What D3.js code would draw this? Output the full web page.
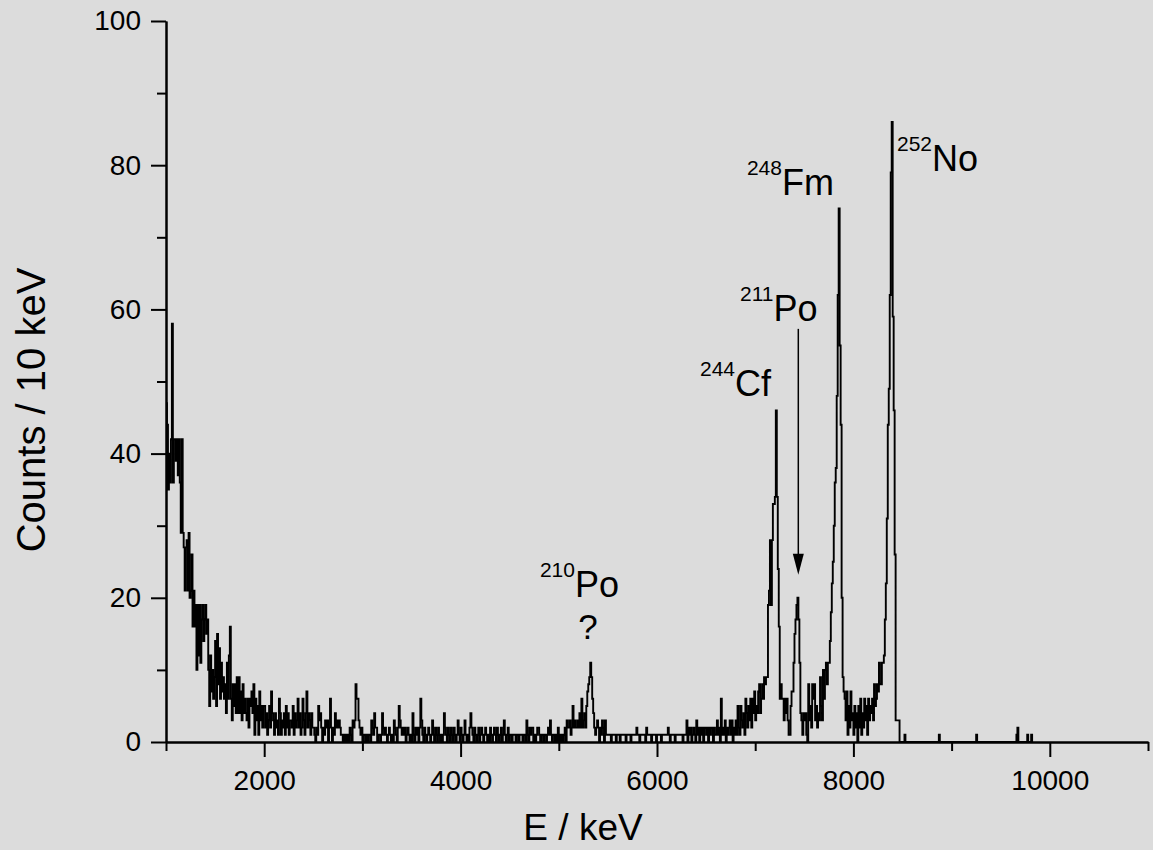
<!DOCTYPE html>
<html>
<head>
<meta charset="utf-8">
<script src="https://cdn.jsdelivr.net/npm/d3@7"></script>
<style>
  body { margin: 0; background: #dcdcdc; }
  svg { display: block; font-family: "Liberation Sans", Arial, Helvetica, sans-serif; }
</style>
</head>
<body>
<div id="chart"></div>
<script>
// Alpha spectrum, counts per 10 keV bin
const BIN_WIDTH = 10;

// 1000 - 1990 keV
const countsFrom1000 = [
  47, 44, 35, 40, 36, 42, 58, 36, 42, 42,
  39, 42, 37, 42, 36, 29, 42, 29, 27, 21,
  27, 28, 21, 29, 20, 21, 26, 16, 21, 16,
  19, 10, 19, 12, 19, 11, 17, 19, 14, 17,
  19, 15, 17, 10, 5, 12, 7, 10, 6, 9,
  14, 5, 15, 8, 13, 6, 11, 7, 9, 6,
  8, 4, 11, 6, 12, 16, 6, 3, 8, 5,
  8, 4, 9, 4, 9, 4, 7, 3, 8, 4,
  6, 4, 3, 6, 2, 6, 5, 7, 4, 8,
  1, 6, 3, 5, 1, 7, 3, 5, 2, 5
];
// 2000 - 2490 keV
const countsFrom2000 = [
  5, 2, 4, 1, 3, 5, 2, 7, 4, 3,
  1, 4, 2, 3, 1, 6, 4, 1, 3, 2,
  4, 1, 5, 2, 4, 1, 3, 3, 2, 5,
  1, 4, 2, 3, 6, 2, 4, 1, 2, 6,
  3, 1, 4, 7, 2, 4, 3, 1, 4, 2
];
// 2500 - 4490 keV
const countsFrom2500 = [
  2, 1, 0, 2, 1, 5, 3, 4, 2, 0,
  2, 1, 3, 2, 3, 0, 2, 6, 2, 0,
  2, 1, 4, 2, 3, 2, 3, 2, 1, 1,
  0, 1, 0, 1, 0, 1, 0, 2, 1, 0,
  3, 2, 3, 8, 6, 6, 3, 2, 1, 2,
  0, 1, 1, 0, 1, 0, 1, 1, 0, 3,
  2, 1, 4, 2, 2, 0, 1, 1, 0, 1,
  4, 2, 1, 2, 1, 0, 1, 2, 1, 0,
  1, 0, 3, 2, 1, 0, 2, 5, 3, 2,
  1, 2, 1, 2, 0, 1, 2, 1, 0, 1,
  0, 4, 1, 0, 2, 1, 2, 0, 2, 6,
  3, 1, 0, 2, 1, 0, 1, 2, 1, 0,
  1, 3, 1, 0, 2, 1, 0, 2, 1, 0,
  1, 0, 1, 4, 2, 1, 0, 2, 1, 0,
  2, 1, 0, 2, 1, 0, 1, 3, 1, 0,
  2, 1, 0, 1, 3, 1, 0, 1, 0, 2,
  4, 2, 1, 0, 2, 1, 0, 1, 2, 0,
  1, 2, 1, 0, 1, 2, 1, 0, 1, 0,
  2, 1, 0, 1, 2, 1, 0, 2, 1, 0,
  1, 2, 0, 1, 3, 1, 0, 1, 2, 0
];
// 4500 - 4990 keV
const countsFrom4500 = [
  1, 1, 0, 1, 1, 1, 0, 1, 1, 0,
  1, 1, 1, 0, 1, 1, 0, 3, 1, 0,
  2, 1, 2, 2, 0, 1, 0, 1, 2, 2,
  1, 0, 1, 1, 0, 1, 1, 0, 1, 2,
  1, 3, 1, 0, 1, 1, 0, 1, 0, 2
];
// 5000 - 5490 keV (210Po region)
const countsFrom5000 = [
  0, 1, 0, 1, 0, 1, 2, 0, 3, 2,
  2, 3, 1, 2, 5, 2, 3, 2, 2, 3,
  2, 4, 2, 6, 2, 3, 4, 2, 5, 7,
  8, 9, 11, 9, 6, 4, 2, 1, 2, 3,
  2, 0, 2, 1, 3, 2, 0, 3, 1, 1
];
// 5500 - 6190 keV
const countsFrom5500 = [
  1, 1, 1, 0, 1, 1, 1, 1, 0, 1,
  1, 1, 0, 1, 1, 1, 1, 1, 0, 1,
  1, 1, 1, 0, 1, 1, 1, 1, 1, 2,
  1, 1, 0, 1, 1, 1, 1, 1, 0, 2,
  1, 1, 1, 1, 0, 1, 1, 1, 1, 0,
  1, 1, 1, 1, 0, 1, 1, 1, 1, 1,
  1, 2, 1, 0, 1, 1, 1, 1, 0, 1
];
// 6200 - 7090 keV
const countsFrom6200 = [
  1, 1, 1, 1, 1, 1, 0, 1, 1, 1,
  3, 0, 2, 1, 2, 0, 1, 2, 1, 0,
  3, 1, 2, 0, 2, 1, 2, 0, 2, 2,
  1, 2, 0, 2, 1, 2, 2, 0, 2, 1,
  1, 3, 1, 2, 0, 6, 1, 2, 1, 3,
  0, 2, 1, 2, 3, 1, 3, 0, 2, 1,
  3, 1, 5, 2, 1, 5, 3, 2, 4, 1,
  6, 4, 2, 5, 3, 6, 2, 6, 4, 7,
  3, 5, 4, 7, 8, 4, 6, 8, 6, 9
];
// 7100 - 8490 keV (244Cf, 211Po, 248Fm, 252No)
const countsFrom7100 = [
  8, 9, 9, 19, 21, 28, 19, 28, 33, 33,
  34, 46, 34, 24, 16, 6, 8, 6, 6, 3,
  6, 4, 6, 3, 1, 1, 5, 7, 7, 11,
  15, 17, 19, 20, 17, 11, 4, 3, 1, 4,
  3, 4, 1, 0, 8, 3, 5, 2, 8, 6,
  8, 3, 5, 2, 4, 3, 9, 5, 3, 10,
  6, 10, 11, 8, 11, 11, 14, 18, 22, 25,
  30, 36, 38, 48, 62, 74, 55, 44, 20, 9,
  7, 6, 3, 7, 1, 5, 2, 7, 3, 4,
  1, 5, 2, 4, 0, 5, 2, 6, 1, 4,
  2, 6, 3, 5, 1, 6, 3, 5, 4, 6,
  3, 8, 5, 6, 8, 7, 11, 8, 8, 11,
  11, 12, 17, 22, 31, 44, 49, 62, 79, 86,
  59, 46, 26, 3, 3, 3, 3, 0, 0, 0
];
// isolated counts above 8500 keV
const tailEnergies = [8520, 8870, 9250, 9660, 9670, 9770, 9810];
const tailCounts = [1, 1, 1, 1, 2, 1, 1];

// axis ticks
const xMajorTicks = [2000, 4000, 6000, 8000, 10000];
const xMinorTicks = [1000, 3000, 5000, 7000, 9000, 11000];
const yMajorTicks = [0, 20, 40, 60, 80, 100];
const yMinorTicks = [10, 30, 50, 70, 90];

// peak labels: mass number, symbol, anchor (keV, counts)
const peakLabels = [
  { mass: "210", symbol: "Po", e: 4808, c: 20.1 },
  { mass: "244", symbol: "Cf", e: 6438, c: 48.0 },
  { mass: "211", symbol: "Po", e: 6845, c: 58.4 },
  { mass: "248", symbol: "Fm", e: 6916, c: 75.9 },
  { mass: "252", symbol: "No", e: 8444, c: 79.2 }
];

// Plot constants
const W = 1153, H = 850;
const PLOT = { LEFT: 166, RIGHT: 1148, TOP: 21, BOTTOM: 742 };

const svg = d3.select("#chart").append("svg")
  .attr("width", W)
  .attr("height", H);

svg.append("rect")
  .attr("width", W)
  .attr("height", H)
  .attr("fill", "#dcdcdc");

const x = d3.scaleLinear().domain([1000, 11000]).range([PLOT.LEFT, PLOT.RIGHT]);
const y = d3.scaleLinear().domain([0, 100]).range([PLOT.BOTTOM, PLOT.TOP]);

// Histogram as a step line
const counts = [].concat(countsFrom1000, countsFrom2000, countsFrom2500, countsFrom4500,
  countsFrom5000, countsFrom5500, countsFrom6200, countsFrom7100);
const points = counts.map((c, i) => [1000 + i * BIN_WIDTH, c]);
points.push([1000 + counts.length * BIN_WIDTH, 0]);
tailEnergies.forEach((e, i) => {
  points.push([e, tailCounts[i]]);
  points.push([e + BIN_WIDTH, 0]);
});

const line = d3.line()
  .x(d => x(d[0]))
  .y(d => y(d[1]))
  .curve(d3.curveStepAfter);

svg.append("path")
  .datum(points)
  .attr("fill", "none")
  .attr("stroke", "#000")
  .attr("stroke-width", 1.9)
  .attr("d", line);

// Axes
function styleAxis(g) {
  g.select(".domain").attr("stroke", "#000").attr("stroke-width", 2);
  g.selectAll(".tick line").attr("stroke", "#000").attr("stroke-width", 2);
  g.selectAll(".tick text").attr("fill", "#000").style("font-size", "28px");
}

svg.append("g")
  .attr("transform", `translate(0,${PLOT.BOTTOM})`)
  .call(d3.axisBottom(x).tickValues(xMinorTicks).tickSize(9).tickSizeOuter(0).tickFormat(""))
  .call(styleAxis);

svg.append("g")
  .attr("transform", `translate(0,${PLOT.BOTTOM})`)
  .call(d3.axisBottom(x).tickValues(xMajorTicks).tickSize(15).tickSizeOuter(0).tickPadding(13)
    .tickFormat(d3.format("d")))
  .call(styleAxis);

svg.append("g")
  .attr("transform", `translate(${PLOT.LEFT},0)`)
  .call(d3.axisLeft(y).tickValues(yMinorTicks).tickSize(9).tickSizeOuter(0).tickFormat(""))
  .call(styleAxis);

svg.append("g")
  .attr("transform", `translate(${PLOT.LEFT},0)`)
  .call(d3.axisLeft(y).tickValues(yMajorTicks).tickSize(15).tickSizeOuter(0).tickPadding(10))
  .call(styleAxis);

// Axis titles
svg.append("text")
  .attr("x", 583)
  .attr("y", 840)
  .attr("text-anchor", "middle")
  .style("font-size", "37px")
  .text("E / keV");

svg.append("text")
  .attr("transform", "translate(45,410)rotate(-90)")
  .attr("text-anchor", "middle")
  .style("font-size", "40px")
  .text("Counts / 10 keV");

// Peak labels
peakLabels.forEach(p => {
  const t = svg.append("text")
    .attr("x", x(p.e))
    .attr("y", y(p.c));
  t.append("tspan")
    .attr("dy", -20)
    .style("font-size", "21px")
    .text(p.mass);
  t.append("tspan")
    .attr("dy", 20)
    .style("font-size", "36px")
    .text(p.symbol);
});

svg.append("text")
  .attr("x", x(5297))
  .attr("y", y(14.3))
  .attr("text-anchor", "middle")
  .style("font-size", "35px")
  .text("?");

// Arrow to the 211Po peak
svg.append("line")
  .attr("x1", x(7439))
  .attr("x2", x(7439))
  .attr("y1", y(57.3))
  .attr("y2", y(23.2) - 15)
  .attr("stroke", "#000")
  .attr("stroke-width", 1.5);

svg.append("path")
  .attr("d", `M${x(7439) - 5.5},${y(23.2) - 21}L${x(7439) + 5.5},${y(23.2) - 21}L${x(7439)},${y(23.2)}Z`)
  .attr("fill", "#000");
</script>
</body>
</html>
